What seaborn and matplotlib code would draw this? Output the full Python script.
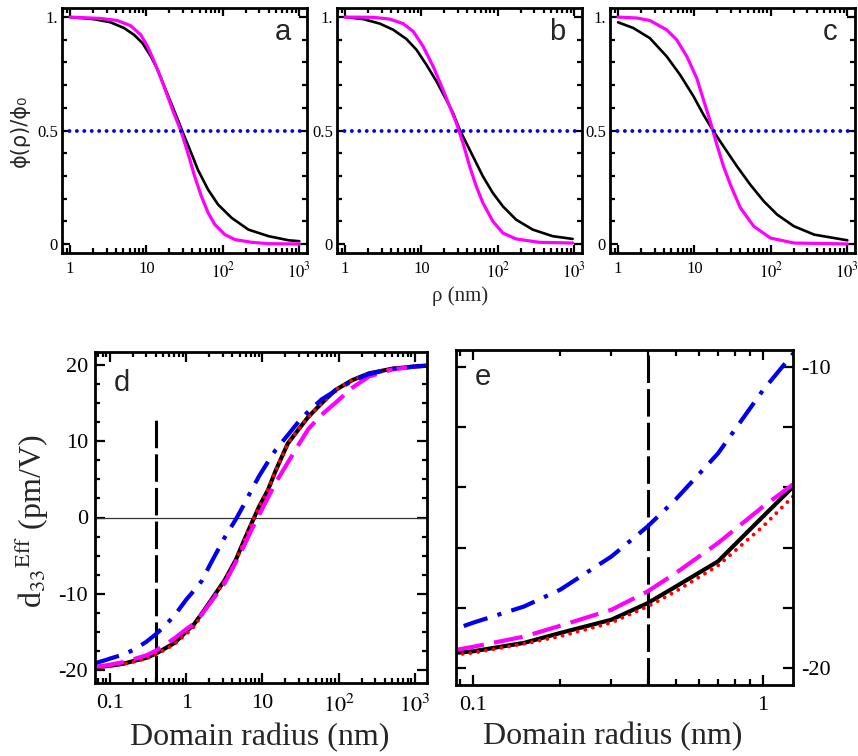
import numpy as np
import seaborn as sns
import matplotlib
matplotlib.use('Agg')
import matplotlib.pyplot as plt
from matplotlib.ticker import FixedLocator, FixedFormatter, LogLocator, NullFormatter, MultipleLocator

# ---- top row: normalised potential profiles phi(rho)/phi0 ----
rho_a_black = [1, 2.03, 3.38, 5.07, 6.87, 8.88, 11.4, 14.0, 17.1, 21.0, 25.7, 31.4, 38.5, 47.1,
               64.1, 86.7, 130, 216, 397, 728, 1000]
phi_a_black = [1.0, 0.991, 0.977, 0.952, 0.922, 0.885, 0.827, 0.768, 0.695, 0.621, 0.548, 0.474,
               0.401, 0.327, 0.239, 0.173, 0.115, 0.063, 0.034, 0.016, 0.012]
rho_a_mag = [1, 2.49, 4.13, 6.21, 8.42, 10.3, 12.6, 15.4, 18.9, 23.2, 28.4, 34.8, 42.7, 52.3,
             64.1, 78.6, 106, 144, 240, 397, 1000]
phi_a_mag = [1.0, 0.994, 0.985, 0.962, 0.922, 0.871, 0.805, 0.731, 0.651, 0.570, 0.496, 0.401,
             0.298, 0.210, 0.137, 0.085, 0.041, 0.019, 0.007, 0.001, 0.0]

rho_b_black = [1, 1.73, 2.86, 4.27, 6.37, 8.6, 11.6, 15.7, 21.1, 25.9, 31.6, 38.6, 47.2, 63.6,
               85.8, 116, 173, 286, 523, 950]
phi_b_black = [1.0, 0.991, 0.971, 0.944, 0.903, 0.856, 0.790, 0.717, 0.636, 0.577, 0.504, 0.445,
               0.386, 0.298, 0.225, 0.166, 0.107, 0.063, 0.034, 0.022]
rho_b_mag = [1, 2.34, 3.86, 5.76, 7.79, 10.5, 14.2, 19.1, 23.4, 28.6, 34.9, 42.7, 52.1, 63.6,
             85.8, 116, 173, 350, 950]
phi_b_mag = [1.0, 0.999, 0.991, 0.971, 0.937, 0.871, 0.783, 0.680, 0.606, 0.533, 0.445, 0.342,
             0.254, 0.181, 0.100, 0.048, 0.022, 0.007, 0.004]

rho_c_black = [1, 1.58, 2.61, 4.32, 6.47, 9.7, 13.1, 17.8, 24.0, 36.0, 53.8, 80.8, 121, 200,
               368, 1000]
phi_c_black = [0.977, 0.952, 0.907, 0.827, 0.746, 0.651, 0.570, 0.496, 0.430, 0.342, 0.261,
               0.188, 0.129, 0.078, 0.041, 0.016]
rho_c_mag = [1, 1.74, 2.61, 4.32, 5.85, 7.93, 10.7, 13.1, 16.1, 19.6, 24.0, 29.5, 39.9, 59.6,
             98.6, 200, 1000]
phi_c_mag = [1.0, 0.996, 0.985, 0.944, 0.900, 0.827, 0.731, 0.636, 0.540, 0.438, 0.342, 0.261,
             0.159, 0.078, 0.026, 0.004, 0.0]

half_level = 0.5

# ---- bottom row: effective d33 vs domain radius ----
radius = [0.0636, 0.0874, 0.1, 0.15, 0.2, 0.3, 0.4, 0.5, 0.7, 1.0, 1.27, 1.6, 2.1, 3.2, 4.5,
          5.8, 7.1, 9, 11.8, 15, 21.5, 30, 40, 60, 90, 150, 250, 500, 1000, 1440]
d33_black = [-19.65, -19.5, -19.45, -19.17, -18.84, -18.4, -17.85, -17.3, -16.46, -14.97, -13.98,
             -12.6, -10.9, -8.2, -5.5, -2.9, -0.9, 1.4, 3.6, 6.2, 9.7, 11.6, 13.2, 15.0, 16.7,
             18.0, 18.9, 19.5, 19.8, 19.9]
d33_red = [-19.7, -19.56, -19.5, -19.2, -18.95, -18.5, -17.96, -17.46, -16.6, -15.3, -14.3,
           -12.8, -11.0, -8.3, -5.6, -3.0, -0.9, 1.4, 3.6, 6.2, 9.7, 11.6, 13.2, 15.0, 16.7,
           18.0, 18.9, 19.5, 19.8, 19.9]
d33_mag = [-19.6, -19.4, -19.3, -18.96, -18.6, -18.07, -17.46, -16.85, -15.85, -14.64, -13.9,
           -12.7, -11.1, -8.6, -5.8, -3.6, -1.7, 0.3, 2.6, 4.6, 7.2, 9.6, 11.6, 13.5, 15.0,
           17.0, 18.5, 19.4, 19.8, 19.9]
d33_blue = [-19.1, -18.7, -18.5, -17.96, -17.4, -16.3, -15.3, -14.4, -12.87, -10.77, -9.56,
            -8.3, -6.0, -2.6, -0.2, 1.8, 3.5, 5.4, 7.3, 8.9, 10.8, 12.6, 13.9, 15.5, 16.6,
            17.9, 18.8, 19.5, 19.8, 19.9]

marker_radius = 0.4
marker_top_d = 13.5

sns.set_style('ticks')
plt.rcParams['font.family'] = ['Liberation Serif', 'DejaVu Serif']
plt.rcParams['mathtext.fontset'] = 'stix'
plt.rcParams['axes.unicode_minus'] = False

W, H = 858, 756
fig = plt.figure(figsize=(W / 100, H / 100), dpi=100)


def px_axes(left, top, right, bottom):
    return fig.add_axes([left / W, 1 - bottom / H, (right - left) / W, (bottom - top) / H])


def frame(ax, lw=2.0):
    for s in ax.spines.values():
        s.set_visible(True)
        s.set_color('black')
        s.set_linewidth(lw)
    ax.tick_params(which='both', direction='in', top=True, right=True, width=1.6, colors='black')


# top row
top_axes = [px_axes(62, 8, 307, 253), px_axes(337, 8, 582, 253), px_axes(610, 8, 855, 253)]
top_data = [(rho_a_black, phi_a_black, rho_a_mag, phi_a_mag, 'a'),
            (rho_b_black, phi_b_black, rho_b_mag, phi_b_mag, 'b'),
            (rho_c_black, phi_c_black, rho_c_mag, phi_c_mag, 'c')]

for ax, (xk, yk, xm, ym, letter) in zip(top_axes, top_data):
    sns.lineplot(x=xk, y=yk, color='black', lw=1.9, ax=ax)
    sns.lineplot(x=xm, y=ym, color='#ff00ff', lw=2.3, ax=ax)
    ax.axhline(half_level, color='#0000ee', lw=2.8, linestyle=(0, (0.01, 1.9)),
               dash_capstyle='round')
    ax.set_xscale('log')
    ax.set_xlim(0.785, 1260)
    ax.set_ylim(-0.04, 1.04)
    frame(ax)
    ax.xaxis.set_major_locator(FixedLocator([1, 10, 100, 1000]))
    ax.xaxis.set_major_formatter(FixedFormatter(['1', '10', r'$10^2$', r'$10^3$']))
    ax.xaxis.set_minor_locator(LogLocator(base=10, subs=np.arange(2, 10), numticks=20))
    ax.xaxis.set_minor_formatter(NullFormatter())
    ax.yaxis.set_major_locator(FixedLocator([0, 0.5, 1.0]))
    ax.yaxis.set_major_formatter(FixedFormatter(['0', '0.5', '1.']))
    ax.yaxis.set_minor_locator(MultipleLocator(0.1))
    ax.tick_params(which='major', length=6, labelsize=12, pad=3)
    ax.tick_params(axis='x', which='major', pad=6)
    ax.tick_params(which='minor', length=3.5)
    ax.text(0.90, 0.90, letter, transform=ax.transAxes, ha='center', va='center',
            fontsize=21, family=['Liberation Sans', 'DejaVu Sans'])
    ax.set_xlabel('')
    ax.set_ylabel('')

top_axes[0].set_ylabel('ϕ(ρ)/ϕ₀', fontsize=15, family=['DejaVu Sans'])
top_axes[0].yaxis.set_label_coords(-0.13, 0.5)
fig.text(460 / W, 1 - 296 / H, 'ρ (nm)', ha='center', va='center', fontsize=15)

# panel d
ax_d = px_axes(95, 352, 427, 683)
ax_d.axhline(0, color='#333333', lw=0.9)
ax_d.vlines(marker_radius, -21.7, marker_top_d, color='black', lw=2.2,
            linestyle=(0, (9, 2)))
# panel e
ax_e = px_axes(456, 350, 793, 685)
ax_e.axvline(marker_radius, color='black', lw=2.2, linestyle=(0, (9, 2)))

for ax in (ax_d, ax_e):
    sns.lineplot(x=radius, y=d33_black, color='black', lw=3.0, ax=ax)
    sns.lineplot(x=radius, y=d33_red, color='#ff0000', lw=2.8, linestyle=(0, (0.01, 2.0)),
                 dash_capstyle='round', ax=ax)
    sns.lineplot(x=radius, y=d33_mag, color='#ff00ff', lw=3.0, linestyle=(0, (7, 2.5)), ax=ax)
    sns.lineplot(x=radius, y=d33_blue, color='#0000ee', lw=3.0,
                 linestyle=(0, (6, 2.5, 1, 2.5)), ax=ax)
    ax.set_xscale('log')
    frame(ax)
    ax.set_ylabel('')

ax_d.set_xlim(0.0636, 1440)
ax_d.set_ylim(-21.7, 21.7)
ax_d.xaxis.set_major_locator(FixedLocator([0.1, 1, 10, 100, 1000]))
ax_d.xaxis.set_major_formatter(FixedFormatter(['0.1', '1', '10', r'$10^2$', r'$10^3$']))
ax_d.xaxis.set_minor_locator(LogLocator(base=10, subs=np.arange(2, 10), numticks=20))
ax_d.xaxis.set_minor_formatter(NullFormatter())
ax_d.yaxis.set_major_locator(MultipleLocator(10))
ax_d.yaxis.set_minor_locator(MultipleLocator(2.5))
ax_d.tick_params(which='major', length=7, labelsize=16, pad=5)
ax_d.tick_params(axis='x', which='major', pad=8)
ax_d.tick_params(which='minor', length=3.5)
ax_d.text(0.081, 0.906, 'd', transform=ax_d.transAxes, ha='center', va='center',
          fontsize=21, family=['Liberation Sans', 'DejaVu Sans'])
ax_d.set_xlabel('Domain radius (nm)', fontsize=23)
ax_d.xaxis.label.set_va('center')
ax_d.xaxis.set_label_coords(0.497, -0.166)
ax_d.set_ylabel(r'd$_{33}$$^{\mathrm{Eff}}$ (pm/V)', fontsize=23)
ax_d.yaxis.label.set_va('center')
ax_d.yaxis.set_label_coords(-0.19, 0.49)

ax_e.set_xlim(0.0874, 1.27)
ax_e.set_ylim(-20.57, -9.43)
ax_e.xaxis.set_major_locator(FixedLocator([0.1, 1]))
ax_e.xaxis.set_major_formatter(FixedFormatter(['0.1', '1']))
ax_e.xaxis.set_minor_locator(LogLocator(base=10, subs=np.arange(2, 10), numticks=20))
ax_e.xaxis.set_minor_formatter(NullFormatter())
ax_e.yaxis.tick_right()
ax_e.yaxis.set_major_locator(FixedLocator([-20, -18, -16, -14, -12, -10]))
ax_e.yaxis.set_major_formatter(FixedFormatter(['-20', '', '', '', '', '-10']))
ax_e.tick_params(which='both', direction='in', left=True, right=True, top=True)
ax_e.tick_params(which='major', length=7, labelsize=16, pad=6)
ax_e.tick_params(axis='x', which='major', pad=8)
ax_e.tick_params(which='minor', length=4)
ax_e.text(0.08, 0.919, 'e', transform=ax_e.transAxes, ha='center', va='center',
          fontsize=21, family=['Liberation Sans', 'DejaVu Sans'])
ax_e.set_xlabel('Domain radius (nm)', fontsize=23)
ax_e.xaxis.label.set_va('center')
ax_e.xaxis.set_label_coords(0.466, -0.155)

fig.savefig('out.png', dpi=100)
